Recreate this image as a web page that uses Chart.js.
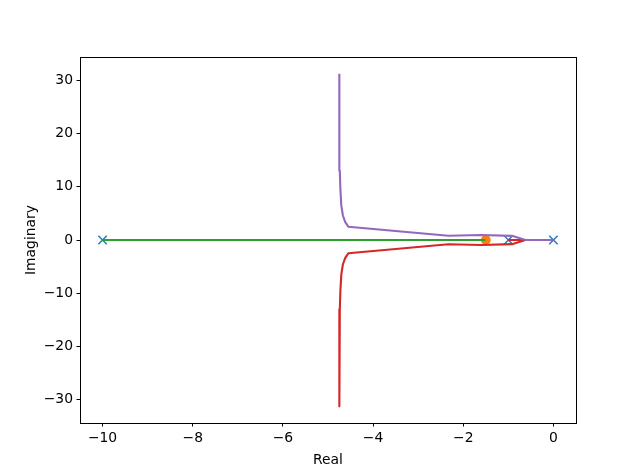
<!DOCTYPE html>
<html>
<head>
<meta charset="utf-8">
<script src="https://cdn.jsdelivr.net/npm/chart.js@4.4.1/dist/chart.umd.min.js"></script>
<style>
  html, body { margin: 0; padding: 0; background: #ffffff; }
  #wrap { width: 640px; height: 476px; }
</style>
</head>
<body>
<div id="wrap"><canvas id="c" width="640" height="476"></canvas></div>
<script>
// ---- data ----
const poleRe = [0, -1, -10];
const poleIm = [0, 0, 0];
const zeroRe = [-1.5];
const zeroIm = [0];

const greenRe = [-10, -6.34, -2.0, -1.51];
const greenIm = [0, 0, 0, 0];

const redRe = [-1, -0.62, -0.92, -1.6, -2.33, -4.55, -4.62, -4.67, -4.705, -4.725, -4.738, -4.745, -4.749, -4.751];
const redIm = [0, 0, -0.78, -0.95, -0.8, -2.5, -3.4, -4.6, -6.5, -9.5, -13, -18, -25, -31.25];

const purpleRe = [0, -0.62, -0.92, -1.6, -2.33, -4.55, -4.62, -4.67, -4.705, -4.725, -4.738, -4.745, -4.749, -4.751];
const purpleIm = [0, 0, 0.78, 0.95, 0.8, 2.5, 3.4, 4.6, 6.5, 9.5, 13, 18, 25, 31.25];

const xTicks = [-10, -8, -6, -4, -2, 0];
const yTicks = [-30, -20, -10, 0, 10, 20, 30];
const xLimits = [-10.5, 0.5];
const yLimits = [-34.375, 34.375];

const xTitle = 'Real';
const yTitle = 'Imaginary';

// ---- helpers ----
const pts = (re, im) => re.map((v, i) => ({ x: v, y: im[i] }));
const fmt = v => (v < 0 ? '\u2212' + Math.abs(v) : String(v));
const FONT = { family: 'DejaVu Sans', size: 13.9 };

const framePlugin = {
  id: 'frame',
  afterDatasetsDraw(chart) {
    const { ctx, chartArea: a } = chart;
    ctx.save();
    ctx.strokeStyle = '#000';
    ctx.lineWidth = 1;
    ctx.strokeRect(Math.round(a.left) + 0.5, Math.round(a.top) + 0.5,
                   Math.round(a.right - a.left), Math.round(a.bottom - a.top));
    ctx.restore();
  }
};

const bgPlugin = {
  id: 'bg',
  beforeDraw(chart) {
    const { ctx } = chart;
    ctx.save();
    ctx.fillStyle = '#fff';
    ctx.fillRect(0, 0, chart.width, chart.height);
    ctx.restore();
  }
};

const LW = 2.1;

new Chart(document.getElementById('c'), {
  type: 'scatter',
  data: {
    datasets: [
      { label: 'branch3', data: pts(purpleRe, purpleIm), showLine: true, borderColor: '#9467bd',
        borderWidth: LW, pointRadius: 0, tension: 0, order: 0, fill: false, borderJoinStyle: 'round', borderCapStyle: 'butt' },
      { label: 'branch2', data: pts(redRe, redIm), showLine: true, borderColor: '#d62728',
        borderWidth: LW, pointRadius: 0, tension: 0, order: 1, fill: false, borderJoinStyle: 'round', borderCapStyle: 'butt' },
      { label: 'branch1', data: pts(greenRe, greenIm), showLine: true, borderColor: '#2ca02c',
        borderWidth: LW, pointRadius: 0, tension: 0, order: 2, fill: false },
      { label: 'zeros', data: pts(zeroRe, zeroIm), showLine: false, pointStyle: 'circle',
        pointRadius: 4.2, backgroundColor: '#ff7f0e', borderColor: '#ff7f0e', borderWidth: 1.4, order: 3 },
      { label: 'poles', data: pts(poleRe, poleIm), showLine: false, pointStyle: 'crossRot',
        pointRadius: 5.9, borderColor: '#1f77b4', backgroundColor: '#1f77b4', borderWidth: 1.4, order: 4 }
    ]
  },
  options: {
    responsive: false,
    devicePixelRatio: 1,
    animation: false,
    layout: { padding: { top: 57, right: 64, bottom: 0, left: 0 } },
    plugins: { legend: { display: false }, tooltip: { enabled: false } },
    elements: { point: { hoverRadius: 0 } },
    scales: {
      x: {
        type: 'linear', position: 'bottom',
        min: xLimits[0], max: xLimits[1],
        afterBuildTicks: s => { s.ticks = xTicks.map(v => ({ value: v })); },
        afterFit: s => { s.height = 53; },
        grid: { display: true, drawOnChartArea: false, drawTicks: true, tickLength: 3.5, tickWidth: 1, tickColor: '#000' },
        border: { display: false },
        ticks: { color: '#000', font: FONT, padding: 4, maxRotation: 0, autoSkip: false, callback: fmt },
        title: { display: true, text: xTitle, color: '#000', font: FONT, padding: { top: 0, bottom: 7 } }
      },
      y: {
        type: 'linear', position: 'left',
        min: yLimits[0], max: yLimits[1],
        afterBuildTicks: s => { s.ticks = yTicks.map(v => ({ value: v })); },
        afterFit: s => { s.width = 80; },
        grid: { display: true, drawOnChartArea: false, drawTicks: true, tickLength: 3.5, tickWidth: 1, tickColor: '#000' },
        border: { display: false },
        ticks: { color: '#000', font: FONT, padding: 3.5, autoSkip: false, callback: fmt },
        title: { display: true, text: yTitle, color: '#000', font: FONT, padding: { top: 23, bottom: 0 } }
      }
    }
  },
  plugins: [bgPlugin, framePlugin]
});
</script>
</body>
</html>
